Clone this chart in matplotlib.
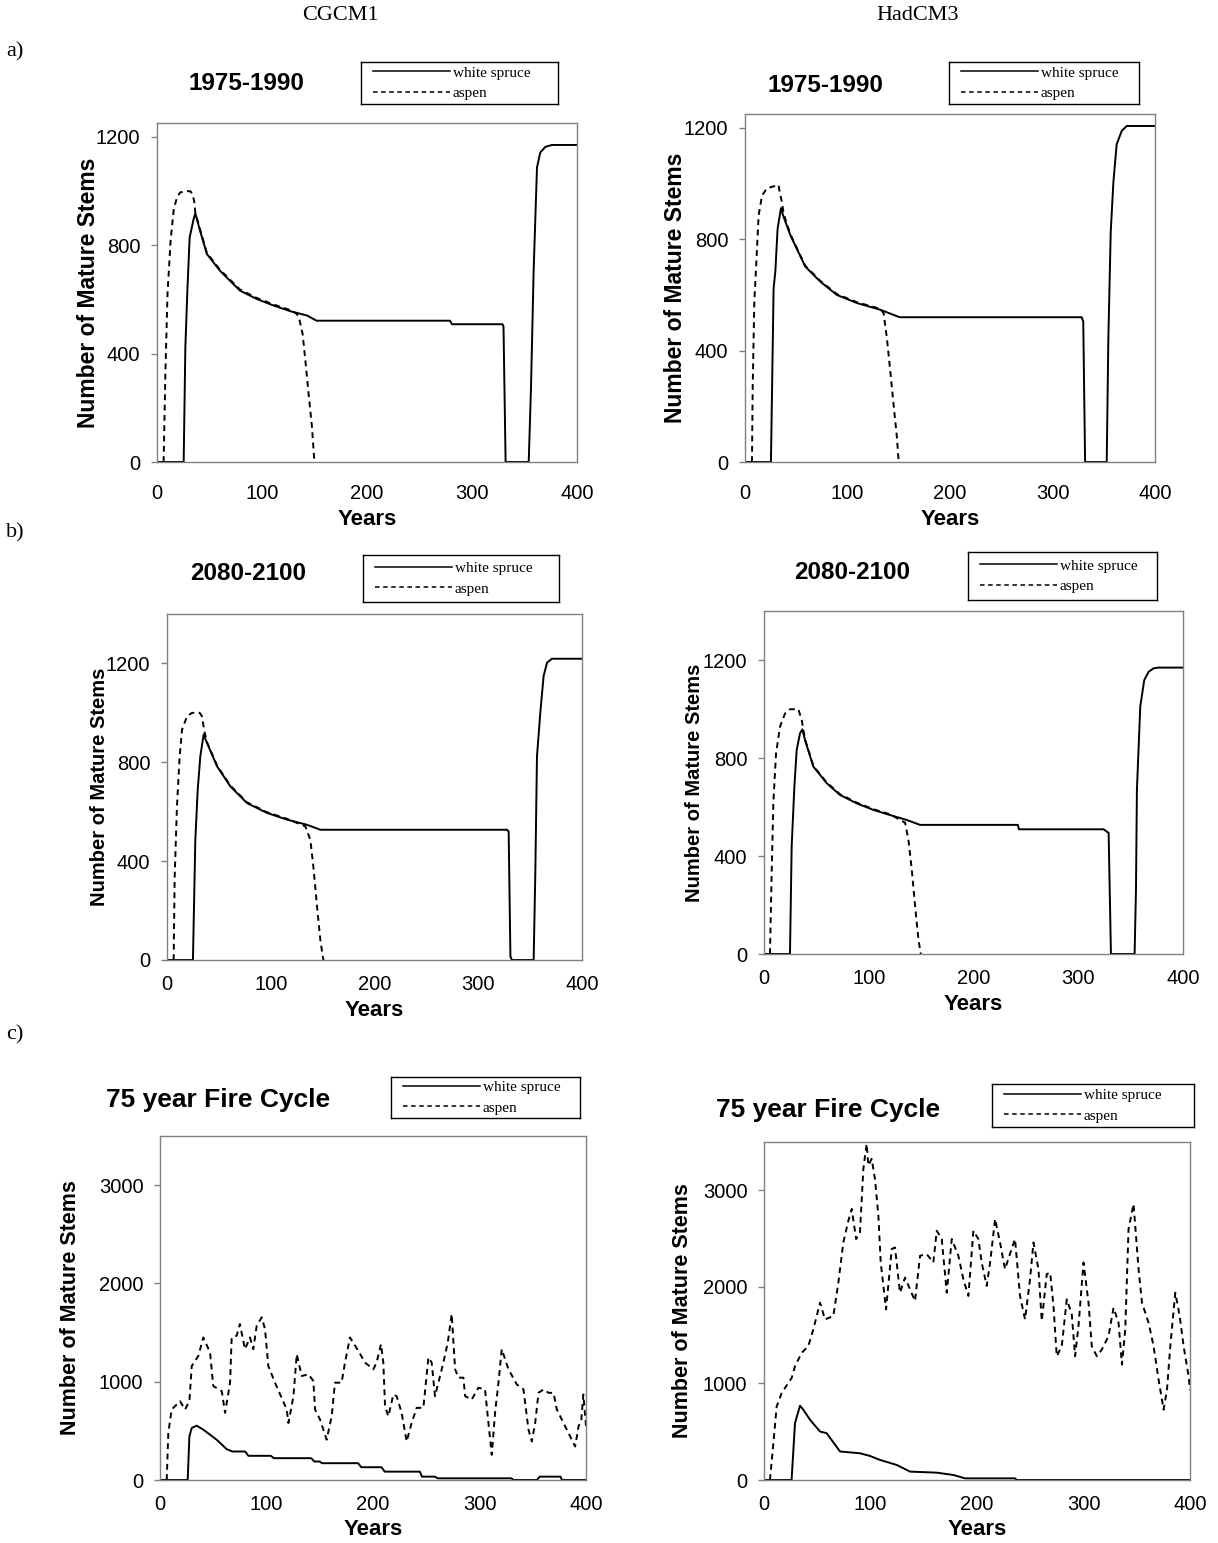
import matplotlib
matplotlib.use('Agg')
import matplotlib.pyplot as plt

plt.rcParams['font.family'] = ['Liberation Sans', 'DejaVu Sans']

W, H = 1218, 1543

# ---- a) 1975-1990 -------------------------------------------------------
cg_7590_ws_yr = [0, 25.4, 27, 29, 31.1, 34.9, 36.5, 41, 47.5, 60, 79, 95, 111, 127, 143, 152,
                 279, 281, 329, 330, 332, 354, 356.2, 358.7, 361.9, 365, 369.8, 376.2, 400]
cg_7590_ws = [0, 0, 423, 640, 828, 896, 917, 853, 767, 705, 632, 601, 577, 556, 540, 521,
              521, 508, 508, 500, 0, 0, 276, 705, 1086, 1141, 1162, 1169, 1169]
cg_7590_asp_yr = [6.3, 8, 10, 13, 16, 19, 22, 28, 32, 34, 35.5, 36.5, 41, 47.5, 60, 79, 95,
                  111, 127, 133.3, 135.9, 138.7, 141.3, 144.4, 147.6, 149.8, 151]
cg_7590_asp = [0, 331, 620, 820, 933, 975, 994, 999, 998, 985, 960, 920, 857, 771, 709, 636, 605,
               581, 560, 546, 521, 472, 374, 251, 129, 6, 0]

had_7590_ws_yr = [0, 25.3, 27.9, 29.6, 31.8, 35.1, 37.7, 44.2, 58.8, 73.4, 89.7, 109.2, 131.9, 150.8,
                  328.5, 330, 331.8, 352.9, 354.5, 356.8, 359.4, 362.6, 367.5, 372.4, 400]
had_7590_ws = [0, 0, 624, 684, 838, 912, 880, 815, 702, 648, 600, 571, 547, 520,
               520, 505, 0, 0, 446, 826, 1005, 1141, 1189, 1207, 1207]
had_7590_asp_yr = [6.8, 7.5, 9.1, 11.1, 13.3, 16.6, 21.4, 27.9, 32.8, 33.8, 36.1, 37.7, 44.2,
                   58.8, 73.4, 89.7, 109.2, 131.9, 135.2, 138.4, 141.7, 144.9, 148.2, 149.8, 150.5]
had_7590_asp = [0, 268, 577, 719, 886, 957, 983, 990, 995, 969, 933, 892, 818,
                705, 651, 603, 574, 550, 535, 446, 327, 208, 89, 6, 0]

# ---- b) 2080-2100 -------------------------------------------------------
cg_8000_ws_yr = [0, 25, 27.3, 29.6, 32.1, 35.3, 38.6, 48.2, 61, 77.1, 96.4, 115.7, 135, 147.8,
                 327.7, 329.3, 331, 332.5, 353.4, 355, 356.6, 359.8, 363, 366.3, 371, 400]
cg_8000_ws = [0, 0, 486, 689, 824, 912, 878, 784, 703, 635, 595, 568, 547, 527,
              527, 520, 14, 0, 0, 351, 824, 1000, 1149, 1203, 1219, 1219]
cg_8000_asp_yr = [6.4, 7.4, 9.6, 12.2, 14.5, 19.3, 24.1, 31.5, 33.7, 36, 38.6, 48.2, 61, 77.1,
                  96.4, 115.7, 133.3, 138.2, 141.4, 144.6, 147.8, 150.4, 151]
cg_8000_asp = [0, 338, 622, 824, 932, 986, 1000, 1000, 986, 926, 881, 787, 706, 638,
               598, 571, 541, 486, 365, 216, 81, 7, 0]

had_8000_ws_yr = [0, 24.8, 26.4, 29, 31.2, 34.4, 36.6, 39.2, 47.1, 59.9, 72.6, 88.5, 104.5, 120.4,
                  136.3, 149, 242.4, 243.3, 324.2, 327.4, 329, 331.2, 353.8, 355.1, 356, 359.2,
                  363, 367.2, 371.9, 376.8, 400]
had_8000_ws = [0, 0, 438, 683, 833, 901, 917, 873, 765, 697, 649, 615, 588, 567,
               547, 527, 527, 509, 509, 499, 495, 0, 0, 261, 669, 1010,
               1118, 1152, 1166, 1169, 1169]
had_8000_asp_yr = [5.7, 7.3, 8.9, 11.5, 15.3, 20.1, 24.8, 32.8, 36, 37.6, 39.2, 47.1, 59.9,
                   72.6, 88.5, 104.5, 120.4, 134.7, 137.9, 141.1, 144.3, 147.5, 149.7]
had_8000_asp = [0, 329, 615, 819, 928, 982, 999, 999, 955, 914, 876, 768, 700,
                652, 618, 591, 570, 536, 465, 343, 193, 57, 0]

# ---- c) 75 year fire cycle ---------------------------------------------
cg_fire_ws_yr = [0, 26, 27.6, 29.8, 34.4, 40.7, 53.2, 62.6, 68, 80, 83, 104, 107, 142, 145, 150,
                 152, 186, 189, 208, 211, 244, 246, 258, 261, 330, 331.8, 354, 356.5, 376, 377.5, 400]
cg_fire_ws = [0, 0, 444, 529, 553, 512, 410, 314, 290, 290, 246, 246, 222, 222, 188, 188,
              171, 171, 130, 130, 85, 85, 34, 34, 17, 17, 0, 0, 34, 34, 0, 0]
cg_fire_asp_yr = [6.3, 7.8, 10.9, 18.8, 23.5, 27.6, 29.8, 36, 40.7, 47, 50, 58, 61.1, 65.8, 67.3,
                  72, 75, 79.8, 84.5, 87.6, 90.8, 95.5, 98.6, 101.7, 108, 119, 120.6, 125.3, 128.4,
                  133.1, 139.4, 144, 145.6, 150.3, 156.5, 161.2, 164.3, 170.5, 173.7, 178.4, 186.2,
                  192.5, 200.3, 203.4, 207.5, 209.7, 211.3, 214.4, 219.1, 222.2, 226.9, 231.6, 236.3,
                  241, 247.3, 252, 255.1, 258.2, 261.4, 266.1, 270.2, 273.9, 277.1, 280.2, 284.9,
                  286.5, 292.7, 299, 305.2, 308.4, 311.5, 314.6, 317.8, 320.9, 327.2, 335, 341.3,
                  346, 349.1, 352.3, 355.4, 360.1, 364.8, 369.5, 372.6, 378.9, 385.1, 389.8, 393,
                  395.5, 397.5, 400]
cg_fire_asp = [0, 478, 717, 802, 717, 802, 1160, 1263, 1450, 1297, 956, 904, 683, 990, 1450,
               1468, 1587, 1331, 1450, 1331, 1570, 1655, 1536, 1160, 990, 717, 580, 853, 1280,
               1058, 1075, 1007, 717, 614, 410, 648, 990, 990, 1195, 1450, 1314,
               1195, 1126, 1195, 1382, 1195, 751, 648, 870, 853, 683, 392, 580,
               734, 734, 1246, 1195, 853, 990, 1195, 1399, 1689, 1126, 1041, 1041,
               853, 819, 939, 922, 580, 256, 683, 990, 1331, 1126, 973, 922,
               512, 392, 580, 887, 922, 887, 887, 717, 580, 444, 341, 546,
               600, 870, 550]

had_fire_ws_yr = [0, 25.9, 29.1, 33.8, 36.9, 43.2, 52.6, 58.8, 71.4, 90.1, 99.5, 108.9, 124.6,
                  137.1, 162.2, 177.8, 188.8, 235.7, 237.3, 400]
had_fire_ws = [0, 0, 589, 769, 728, 624, 502, 485, 295, 277, 249, 208, 156,
               87, 76, 52, 17, 17, 0, 0]
had_fire_asp_yr = [5.6, 8.8, 11.9, 16.6, 26, 29.1, 35.4, 41.6, 46.3, 52.6, 57.3, 65.1, 69.8,
                   74.5, 79.2, 82.4, 86.5, 90.1, 93.3, 96.4, 98, 101.1, 104.2, 107.4, 109.6, 114.6,
                   119.9, 123, 127.7, 132.4, 141.8, 146.5, 152.8, 159, 162.2, 166.9, 171.6, 176.3,
                   182.5, 187.2, 191.9, 196.6, 201.3, 204.4, 209.1, 212.3, 217, 221.6, 226.3, 230.4,
                   235.7, 240.4, 245.1, 249.8, 253, 257.7, 260.8, 265.5, 268.7, 271.8, 274.9, 279.6,
                   284.3, 289, 292.1, 295.3, 300, 304.7, 307.8, 312.5, 317.2, 323.5, 328.2, 332.9,
                   336.1, 339.2, 342.3, 347, 351.7, 354.9, 361.1, 365.8, 370.5, 375.2, 378.4, 381.5,
                   386.2, 390.3, 394, 398.7, 400]
had_fire_asp = [0, 381, 762, 901, 1057, 1178, 1317, 1386, 1559, 1836, 1663, 1698, 2044,
                2460, 2685, 2807, 2495, 2564, 3222, 3482, 3257, 3326, 3118, 2737, 2252, 1767,
                2391, 2408, 1940, 2096, 1854, 2322, 2339, 2252, 2581, 2495, 1940, 2495,
                2322, 2079, 1906, 2581, 2495, 2252, 2010, 2252, 2703, 2460, 2183, 2322,
                2495, 1906, 1663, 2079, 2460, 2183, 1646, 2131, 2148, 1802, 1282, 1386,
                1871, 1715, 1282, 1594, 2252, 1836, 1386, 1282, 1351, 1490, 1784, 1629,
                1195, 1559, 2599, 2859, 2183, 1836, 1629, 1386, 1040, 728, 936, 1386,
                1940, 1698, 1386, 1074, 930]

years_ticks = [0, 100, 200, 300, 400]
labels = ['white spruce', 'aspen']
dash = (0, (3, 2.3))


def px(x0, y0, x1, y1):
    return [x0 / W, 1 - y1 / H, (x1 - x0) / W, (y1 - y0) / H]


fig = plt.figure(figsize=(W / 100, H / 100), dpi=100)


def panel(box, legbox, title, tpos, tsize, ymax, yticks, ylsize, ylpad, xpad,
          ws_x, ws_y, asp_x, asp_y):
    ax = fig.add_axes(px(*box))
    l1, = ax.plot(ws_x, ws_y, color='black', lw=1.4, label=labels[0])
    l2, = ax.plot(asp_x, asp_y, color='black', lw=1.4, ls=dash, label=labels[1])
    ax.set_xlim(0, 400)
    ax.set_ylim(0, ymax)
    ax.set_xticks(years_ticks)
    ax.set_yticks(yticks)
    for s in ax.spines.values():
        s.set_color('#808080')
        s.set_linewidth(1.0)
    ax.tick_params(axis='y', direction='out', length=4, width=1, color='#808080',
                   labelsize=14.5, pad=8)
    ax.tick_params(axis='x', length=0, labelsize=14.5, pad=xpad)
    ax.set_xlabel('Years', fontsize=16, fontweight='bold', labelpad=4)
    ax.set_ylabel('Number of Mature Stems', fontsize=ylsize, fontweight='bold', labelpad=ylpad)
    fig.text(tpos[0] / W, 1 - tpos[1] / H, title, fontsize=tsize, fontweight='bold',
             ha='center', va='center')
    lax = fig.add_axes(px(*legbox))
    lax.set_xticks([])
    lax.set_yticks([])
    for s in lax.spines.values():
        s.set_color('black')
        s.set_linewidth(1.0)
    leg = lax.legend([l1, l2], labels, loc='center left', frameon=False,
                     prop={'family': 'Liberation Serif', 'size': 11},
                     handlelength=5.0, handletextpad=0.2, labelspacing=0.45,
                     borderaxespad=0.2, borderpad=0.6)
    for h in leg.legend_handles:
        h.set_linewidth(1.1)
    return ax


# column / row headers
fig.text(340 / W, 1 - 15 / H, 'CGCM1', fontsize=16, family='Liberation Serif', ha='center', va='center')
fig.text(918 / W, 1 - 15 / H, 'HadCM3', fontsize=16, family='Liberation Serif', ha='center', va='center')
fig.text(6 / W, 1 - 52 / H, 'a)', fontsize=16, family='Liberation Serif', ha='left', va='center')
fig.text(6 / W, 1 - 533 / H, 'b)', fontsize=16, family='Liberation Serif', ha='left', va='center')
fig.text(6 / W, 1 - 1035 / H, 'c)', fontsize=16, family='Liberation Serif', ha='left', va='center')

panel((157, 123, 577, 462), (361, 62, 558, 104), '1975-1990', (246, 83), 17.5,
      1250, [0, 400, 800, 1200], 16.5, -3, 16,
      cg_7590_ws_yr, cg_7590_ws, cg_7590_asp_yr, cg_7590_asp)
panel((745, 114, 1155, 462), (949, 62, 1139, 104), '1975-1990', (825, 85), 17.5,
      1250, [0, 400, 800, 1200], 16.5, -2, 16,
      had_7590_ws_yr, had_7590_ws, had_7590_asp_yr, had_7590_asp)
panel((167, 614, 582, 960), (363, 555, 559, 602), '2080-2100', (248, 573), 17.5,
      1400, [0, 400, 800, 1200], 14.5, -2, 11,
      cg_8000_ws_yr, cg_8000_ws, cg_8000_asp_yr, cg_8000_asp)
panel((764, 611, 1183, 954), (968, 552, 1157, 600), '2080-2100', (852, 572), 17.5,
      1400, [0, 400, 800, 1200], 14.5, -1, 11,
      had_8000_ws_yr, had_8000_ws, had_8000_asp_yr, had_8000_asp)
panel((160, 1136, 586, 1480), (391, 1077, 580, 1118), '75 year Fire Cycle', (218, 1100), 19,
      3500, [0, 1000, 2000, 3000], 15.5, 13, 10.5,
      cg_fire_ws_yr, cg_fire_ws, cg_fire_asp_yr, cg_fire_asp)
panel((764, 1142, 1190, 1480), (992, 1084, 1194, 1127), '75 year Fire Cycle', (828, 1110), 19,
      3500, [0, 1000, 2000, 3000], 15.5, 7, 10.5,
      had_fire_ws_yr, had_fire_ws, had_fire_asp_yr, had_fire_asp)

fig.savefig('out.png', dpi=100)
